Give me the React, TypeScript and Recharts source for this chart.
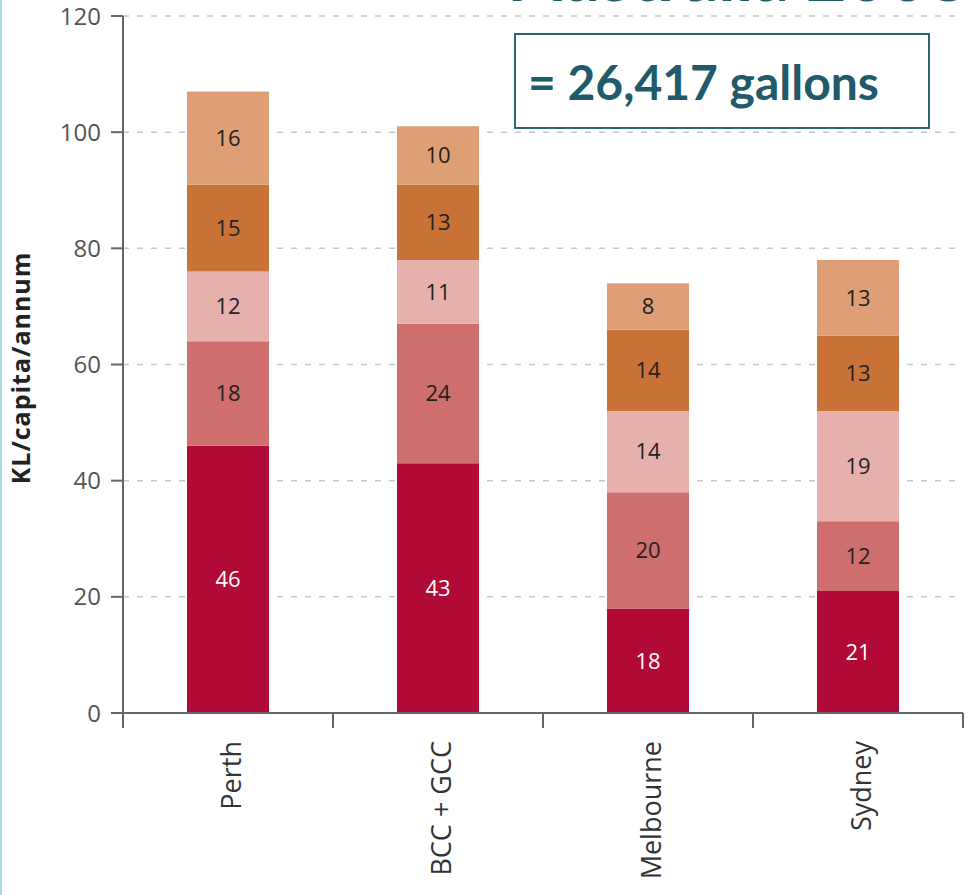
import React from "react";
import { BarChart, Bar, XAxis, YAxis, CartesianGrid, LabelList } from "recharts";

// ─── Data ─────────────────────────────────────────────────────────────────────

const cities = ["Perth", "BCC + GCC", "Melbourne", "Sydney"];
const use1 = [46, 43, 18, 21];
const use2 = [18, 24, 20, 12];
const use3 = [12, 11, 14, 19];
const use4 = [15, 13, 14, 13];
const use5 = [16, 10, 8, 13];
const yTicks = [0, 20, 40, 60, 80, 100, 120];

const chartData = cities.map((city, i) => ({
  city,
  s1: use1[i],
  s2: use2[i],
  s3: use3[i],
  s4: use4[i],
  s5: use5[i],
}));

const segments = [
  { key: "s1", fill: "#B10A37", text: "#ffffff" },
  { key: "s2", fill: "#CE6E6E", text: "#222222" },
  { key: "s3", fill: "#E6B0AD", text: "#222222" },
  { key: "s4", fill: "#C97238", text: "#222222" },
  { key: "s5", fill: "#DE9F76", text: "#222222" },
];

// ─── Layout ───────────────────────────────────────────────────────────────────

const W = 970;
const H = 895;
const MARGIN = { top: 16, right: 7, left: 43, bottom: 0 };
const Y_AXIS_W = 80;
const X_AXIS_H = 182;
const BAND = (W - MARGIN.left - Y_AXIS_W - MARGIN.right) / cities.length;
const AXIS = "#666666";

function CityTick(props: any) {
  const { x, y, payload, index } = props;
  const half = BAND / 2;
  return (
    <g>
      {index === 0 && (
        <line x1={x - half} x2={x - half} y1={y} y2={y + 15} stroke={AXIS} strokeWidth={2} />
      )}
      <line x1={x + half} x2={x + half} y1={y} y2={y + 15} stroke={AXIS} strokeWidth={2} />
      <text
        transform={`translate(${x + 2}, ${y + 28}) rotate(-90)`}
        textAnchor="end"
        dominantBaseline="central"
        fontFamily="'Open Sans', sans-serif"
        fontSize={27}
        fill="#333"
      >
        {payload.value}
      </text>
    </g>
  );
}

export default function App() {
  return (
    <div
      style={{
        position: "fixed",
        left: 0,
        top: 0,
        width: W,
        height: H,
        overflow: "hidden",
        background: "#fff",
      }}
    >
      <BarChart width={W} height={H} data={chartData} margin={MARGIN} barSize={82}>
        <CartesianGrid
          vertical={false}
          strokeDasharray="6 8"
          stroke="#c3c7cb"
          strokeWidth={1.5}
        />
        <XAxis
          dataKey="city"
          height={X_AXIS_H}
          axisLine={{ stroke: AXIS, strokeWidth: 2 }}
          tickLine={false}
          tickSize={0}
          tickMargin={0}
          tick={<CityTick />}
          interval={0}
        />
        <YAxis
          width={Y_AXIS_W}
          domain={[0, 120]}
          ticks={yTicks}
          axisLine={{ stroke: AXIS, strokeWidth: 2 }}
          tickLine={{ stroke: AXIS, strokeWidth: 2 }}
          tickSize={12}
          tickMargin={10}
          tick={{ fontFamily: "'Open Sans', sans-serif", fontSize: 24, fill: "#555" }}
        />
        {segments.map((s) => (
          <Bar key={s.key} dataKey={s.key} stackId="a" fill={s.fill} isAnimationActive={false}>
            <LabelList
              dataKey={s.key}
              position="center"
              fill={s.text}
              fontFamily="'Open Sans', sans-serif"
              fontSize={22}
            />
          </Bar>
        ))}
      </BarChart>

      {/* heading, cut off by the top edge */}
      <svg
        width={W}
        height={40}
        style={{ position: "absolute", left: 0, top: 0, pointerEvents: "none" }}
      >
        <text x={513} y={1} fontFamily="Lato, sans-serif" fontWeight={700} fontSize={70} fill="#235B6B">
          Australia 2008
        </text>
      </svg>

      <div
        style={{
          position: "absolute",
          left: 514,
          top: 33,
          width: 416,
          height: 96,
          border: "2px solid #2D6576",
          background: "#fff",
          display: "flex",
          alignItems: "center",
          paddingLeft: 12,
          boxSizing: "border-box",
          fontFamily: "Lato, sans-serif",
          fontWeight: 700,
          fontSize: 48,
          color: "#215A6A",
          whiteSpace: "nowrap",
        }}
      >
        = 26,417 gallons
      </div>

      <div
        style={{
          position: "absolute",
          left: 20,
          top: 368,
          transform: "translate(-50%, -50%) rotate(-90deg)",
          fontFamily: "'Open Sans', sans-serif",
          fontWeight: 700,
          fontSize: 25,
          letterSpacing: 1,
          color: "#222",
          whiteSpace: "nowrap",
        }}
      >
        KL/capita/annum
      </div>

      <div
        style={{
          position: "absolute",
          left: 0,
          top: 0,
          width: 2,
          height: H,
          background: "#A8DAE6",
        }}
      />
    </div>
  );
}
